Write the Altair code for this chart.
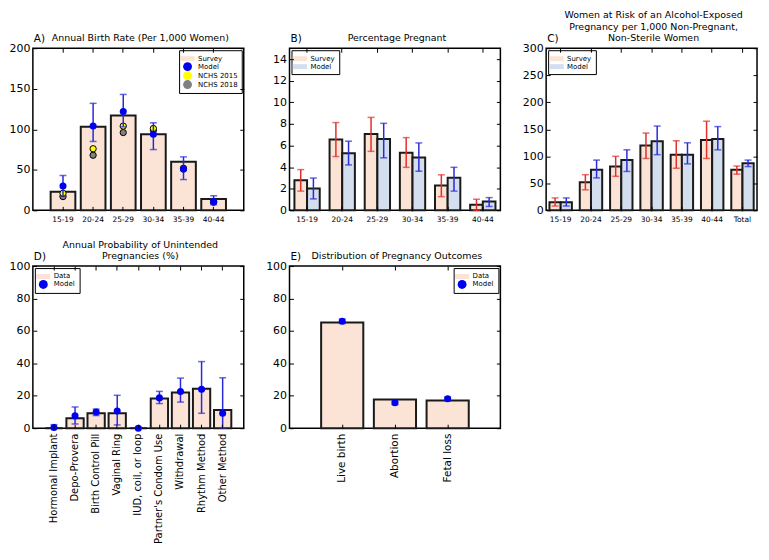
import altair as alt
import pandas as pd

# ---------------- data ----------------
ages = ["15-19", "20-24", "25-29", "30-34", "35-39", "40-44"]

# A) Annual birth rate
a_survey = [23, 103, 117, 94, 60, 14]
a_model = [30, 104, 122, 94, 51, 11]
a_model_lo = [18, 85, 103, 75, 38, 7]
a_model_hi = [43, 132, 143, 108, 66, 18]
a_nchs2015 = [21, 76, 104, 101, 52, 11]
a_nchs2018 = [17, 68, 96, 99, 51, 10]

# B) Percentage pregnant
b_survey = [2.78, 6.55, 7.06, 5.34, 2.30, 0.52]
b_survey_lo = [1.78, 4.98, 5.46, 3.98, 1.27, 0.0]
b_survey_hi = [3.77, 8.12, 8.60, 6.73, 3.29, 1.03]
b_model = [2.02, 5.28, 6.60, 4.89, 3.02, 0.81]
b_model_lo = [1.06, 4.20, 4.86, 3.62, 1.78, 0.36]
b_model_hi = [2.99, 6.40, 8.05, 6.24, 3.98, 1.18]

# C) Women at risk of an alcohol-exposed pregnancy
c_cats = ages + ["Total"]
c_survey = [15, 52, 81, 120, 103, 130, 75]
c_survey_lo = [8, 38, 63, 96, 78, 96, 67]
c_survey_hi = [23, 66, 100, 143, 129, 165, 82]
c_model = [15, 75, 93, 128, 103, 132, 87]
c_model_lo = [8, 60, 72, 103, 86, 112, 81]
c_model_hi = [23, 93, 112, 156, 125, 155, 93]

# D) Annual probability of unintended pregnancies
d_methods = ["Hormonal Implant", "Depo-Provera", "Birth Control Pill", "Vaginal Ring",
             "IUD, coil, or loop", "Partner's Condom Use", "Withdrawal", "Rhythm Method",
             "Other Method"]
d_data = [0, 6.2, 9.2, 9.2, 0, 18.3, 22, 24.3, 11.2]
d_model = [0.4, 7.6, 10, 10.6, 0, 18.7, 22.6, 24, 9.2]
d_model_lo = [0, 2.6, 7.8, 2, 0, 15.2, 16.1, 9.2, 0]
d_model_hi = [2.2, 13.1, 11.8, 20.3, 0.5, 22.7, 30.9, 41.1, 31.1]

# E) Distribution of pregnancy outcomes
e_outcomes = ["Live birth", "Abortion", "Fetal loss"]
e_data = [65.2, 17.7, 17.1]
e_model = [65.9, 15.7, 18.1]
e_model_lo = [64.6, 14.6, 17.1]
e_model_hi = [67.3, 16.8, 19.2]

# ---------------- style ----------------
FONT = "DejaVu Sans"
W, H = 212, 163
PEACH = "#fbe3d5"
LBLUE = "#d3deee"
EDGE = "#1a1a1a"
RED = "#e0302c"
EBLUE = "#2a2ad8"
DOT = "#0000f0"
PATCH = "M-1.6,-0.55H1.6V0.55H-1.6Z"
LH = 11.5


def main_x(fs, angle=0):
    return alt.Axis(title=None, ticks=False, domain=False, grid=False, labelFontSize=fs,
                    labelAngle=angle, labelPadding=5, labelColor="black", labelFont=FONT)


def main_y(vals):
    return alt.Axis(title=None, ticks=False, domain=False, grid=False, values=vals,
                    labelFontSize=11, labelPadding=3, labelColor="black", labelFlush=False,
                    labelOverlap=False, labelFont=FONT)


def tick_axis(orient, offset, vals=None):
    kw = dict(orient=orient, offset=offset, labels=False, domain=False, grid=False,
              ticks=True, tickSize=4, tickColor="black", tickWidth=1, title=None, zindex=1)
    if vals is not None:
        kw["values"] = vals
    return alt.Axis(**kw)


def legend(orient, symbol_type=None):
    kw = dict(orient=orient, title=None, offset=2, padding=4, strokeColor="black",
              fillColor="white", labelFontSize=7, labelFont=FONT, symbolSize=80,
              rowPadding=0, labelColor="black", symbolStrokeWidth=0, labelOffset=6)
    if symbol_type is not None:
        kw["symbolType"] = symbol_type
    return alt.Legend(**kw)


def header(lines, ch):
    one = alt.Data(values=[{"k": 1}])
    letter_mark = alt.Chart(one).mark_text(
        text=ch, align="left", baseline="alphabetic", fontSize=10.5, font=FONT, color="black"
    ).encode(x=alt.value(1), y=alt.value(-6))
    title_mark = alt.Chart(one).mark_text(
        text=lines, align="center", baseline="alphabetic", fontSize=9.5, font=FONT,
        color="black", lineHeight=LH
    ).encode(x=alt.value(W / 2 + 2), y=alt.value(-7 - (len(lines) - 1) * LH))
    return [letter_mark, title_mark]


# ---------- single-bar panels (A, D, E) ----------
def single_panel(cats, bars_df, mod_df, extra_df, yvals, ymax, xsc, series, colors, shapes,
                 leg_orient, xfs, xangle, ttl, ch):
    ysc = alt.Scale(domain=[0, ymax], nice=False)
    csc = alt.Scale(domain=series, range=colors)
    ssc = alt.Scale(domain=series, range=shapes)
    lg = legend(leg_orient)

    def X(ax):
        return alt.X("cat:N", scale=xsc, axis=ax)

    def Y(f, ax):
        return alt.Y(f, scale=ysc, axis=ax)

    bars = alt.Chart(bars_df).mark_bar(stroke=EDGE, strokeWidth=2, opacity=1).encode(
        x=X(main_x(xfs, xangle)), y=Y("val:Q", main_y(yvals)),
        color=alt.Color("series:N", scale=csc, legend=lg))
    layers = [bars]
    if extra_df is not None:
        layers.append(alt.Chart(extra_df).mark_point(
            filled=True, size=40, stroke="black", strokeWidth=1, opacity=1).encode(
            x=X(None), y=Y("val:Q", None),
            color=alt.Color("series:N", scale=csc, legend=lg),
            shape=alt.Shape("series:N", scale=ssc, legend=lg)))
    rule = alt.Chart(mod_df).mark_rule(color=EBLUE, strokeWidth=1.5).encode(
        x=X(tick_axis("bottom", -H)), y=Y("lo:Q", tick_axis("right", -W, yvals)), y2="hi:Q")
    caps = alt.Chart(mod_df).transform_fold(["lo", "hi"], as_=["k", "v"]).mark_tick(
        color=EBLUE, size=7, thickness=1.5).encode(
        x=X(tick_axis("top", -H)), y=Y("v:Q", tick_axis("left", -W, yvals)))
    pts = alt.Chart(mod_df).mark_point(filled=True, size=50, opacity=1).encode(
        x=X(None), y=Y("val:Q", None),
        color=alt.Color("series:N", scale=csc, legend=lg),
        shape=alt.Shape("series:N", scale=ssc, legend=lg))
    layers += [rule, caps, pts] + header(ttl, ch)
    return alt.layer(*layers).resolve_axis(x="independent", y="independent").properties(
        width=W, height=H)


# ---------- grouped panels (B, C) ----------
def grouped_panel(cats, s, slo, shi, m, mlo, mhi, yvals, ymax, xsc, ttl, ch):
    n = len(cats)
    df = pd.DataFrame({"cat": cats + cats, "series": ["Survey"] * n + ["Model"] * n,
                       "val": s + m, "lo": slo + mlo, "hi": shi + mhi})
    ysc = alt.Scale(domain=[0, ymax], nice=False)
    osc = alt.Scale(domain=["Survey", "Model"], paddingInner=0, paddingOuter=0)
    ser_err = alt.Scale(domain=["Survey", "Model"], range=[RED, EBLUE])

    def X(ax):
        return alt.X("cat:N", scale=xsc, axis=ax)

    def XO():
        return alt.XOffset("series:N", scale=osc)

    bars = alt.Chart(df).mark_bar(stroke=EDGE, strokeWidth=2, opacity=1).encode(
        x=X(main_x(7.5)), xOffset=XO(),
        y=alt.Y("val:Q", scale=ysc, axis=main_y(yvals)),
        color=alt.Color("series:N", scale=alt.Scale(domain=["Survey", "Model"],
                                                    range=[PEACH, LBLUE]),
                        legend=legend("top-left", PATCH)))
    rule = alt.Chart(df).mark_rule(strokeWidth=1.5).encode(
        x=X(tick_axis("bottom", -H)), xOffset=XO(),
        y=alt.Y("lo:Q", scale=ysc, axis=tick_axis("right", -W, yvals)), y2="hi:Q",
        stroke=alt.Stroke("series:N", scale=ser_err, legend=None))
    caps = alt.Chart(df).transform_fold(["lo", "hi"], as_=["k", "v"]).mark_tick(
        size=7, thickness=1.5).encode(
        x=X(tick_axis("top", -H)), xOffset=XO(),
        y=alt.Y("v:Q", scale=ysc, axis=tick_axis("left", -W, yvals)),
        fill=alt.Fill("series:N", scale=ser_err, legend=None))
    return alt.layer(bars, rule, caps, *header(ttl, ch)).resolve_axis(
        x="independent", y="independent").properties(width=W, height=H)


# ---------- build panels ----------
A_SER = ["Survey", "Model", "NCHS 2015", "NCHS 2018"]
pA = single_panel(
    ages,
    pd.DataFrame({"cat": ages, "val": a_survey, "series": "Survey"}),
    pd.DataFrame({"cat": ages, "val": a_model, "lo": a_model_lo, "hi": a_model_hi,
                  "series": "Model"}),
    pd.DataFrame({"cat": ages + ages, "val": a_nchs2018 + a_nchs2015,
                  "series": ["NCHS 2018"] * 6 + ["NCHS 2015"] * 6}),
    [0, 50, 100, 150, 200], 200,
    alt.Scale(domain=ages, paddingInner=0.18, paddingOuter=0.59),
    A_SER, [PEACH, DOT, "#ffff00", "#808080"], [PATCH, "circle", "circle", "circle"],
    "top-right", 7.5, 0, ["Annual Birth Rate (Per 1,000 Women)"], "A)")

pB = grouped_panel(ages, b_survey, b_survey_lo, b_survey_hi, b_model, b_model_lo, b_model_hi,
                   [0, 2, 4, 6, 8, 10, 12, 14], 15,
                   alt.Scale(domain=ages, paddingInner=0.28, paddingOuter=0.14),
                   ["Percentage Pregnant"], "B)")

pC = grouped_panel(c_cats, c_survey, c_survey_lo, c_survey_hi, c_model, c_model_lo,
                   c_model_hi, [0, 50, 100, 150, 200, 250, 300], 300,
                   alt.Scale(domain=c_cats, paddingInner=0.26, paddingOuter=0.11),
                   ["Women at Risk of an Alcohol-Exposed",
                    "Pregnancy per 1,000 Non-Pregnant,", "Non-Sterile Women"], "C)")

pD = single_panel(
    d_methods,
    pd.DataFrame({"cat": d_methods, "val": d_data, "series": "Data"}),
    pd.DataFrame({"cat": d_methods, "val": d_model, "lo": d_model_lo, "hi": d_model_hi,
                  "series": "Model"}),
    None, [0, 20, 40, 60, 80, 100], 100,
    alt.Scale(domain=d_methods, paddingInner=0.18, paddingOuter=0.59),
    ["Data", "Model"], [PEACH, DOT], [PATCH, "circle"],
    "top-left", 10, 270, ["Annual Probability of Unintended", "Pregnancies (%)"], "D)")

pE = single_panel(
    e_outcomes,
    pd.DataFrame({"cat": e_outcomes, "val": e_data, "series": "Data"}),
    pd.DataFrame({"cat": e_outcomes, "val": e_model, "lo": e_model_lo, "hi": e_model_hi,
                  "series": "Model"}),
    None, [0, 20, 40, 60, 80, 100], 100,
    alt.Scale(domain=e_outcomes, paddingInner=0.2, paddingOuter=0.6),
    ["Data", "Model"], [PEACH, DOT], [PATCH, "circle"],
    "top-right", 10.5, 270, ["Distribution of Pregnancy Outcomes"], "E)")

chart = alt.concat(
    pA, pB, pC, pD, pE, columns=3, spacing={"row": 56, "column": 46}, bounds="flush"
).resolve_scale(
    color="independent", shape="independent", stroke="independent", fill="independent",
    xOffset="independent"
).properties(
    padding={"left": 0, "top": 0, "right": 2, "bottom": 2}
).configure(font=FONT).configure_view(stroke="black", strokeWidth=1.5)

chart.save("out.html", embed_options={"renderer": "svg", "actions": False})
